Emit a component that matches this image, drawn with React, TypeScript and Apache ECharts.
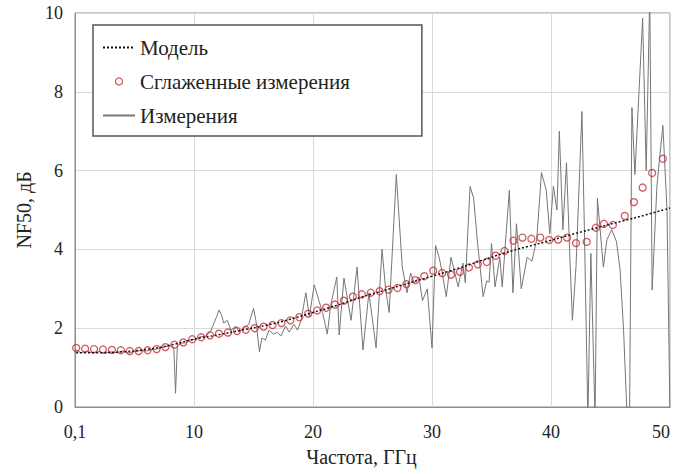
import React, { useEffect, useRef } from "react";
import * as echarts from "echarts";

// X tick labels (value axis 0..50, step 10)
const xTickLabels = ["0,1", "10", "20", "30", "40", "50"];

// Model (dotted black)
const modelFreq = [0.1, 2, 4, 6, 8, 10, 12, 14, 16, 18, 20, 22, 24, 26, 28, 30, 32, 34, 36, 38, 40, 42, 44, 46, 48, 50];
const modelNF = [1.38, 1.38, 1.4, 1.46, 1.57, 1.72, 1.83, 1.95, 2.07, 2.22, 2.4, 2.58, 2.78, 2.96, 3.14, 3.32, 3.5, 3.7, 3.9, 4.07, 4.23, 4.4, 4.56, 4.72, 4.88, 5.05];

// Smoothed measurements (red open circles)
const smoothFreq = [
  0.1, 0.85, 1.6, 2.35, 3.1, 3.85, 4.6, 5.35, 6.1, 6.85, 7.6, 8.35, 9.1, 9.85,
  10.6, 11.35, 12.1, 12.85, 13.6, 14.35, 15.1, 15.85, 16.6, 17.35, 18.1, 18.85, 19.6,
  20.35, 21.1, 21.85, 22.6, 23.35, 24.1, 24.85, 25.6, 26.35, 27.1, 27.85, 28.6, 29.35,
  30.1, 30.85, 31.6, 32.35, 33.1, 33.85, 34.6, 35.35, 36.1, 36.85, 37.6, 38.35, 39.1, 39.85,
  40.6, 41.35, 42.1, 43.0, 43.77, 44.44, 45.2, 46.2, 46.97, 47.7, 48.5, 49.4,
];
const smoothNF = [
  1.5, 1.48, 1.47, 1.46, 1.45, 1.44, 1.42, 1.42, 1.44, 1.47, 1.52, 1.58, 1.64, 1.72,
  1.77, 1.82, 1.86, 1.89, 1.93, 1.96, 2.0, 2.04, 2.08, 2.13, 2.2, 2.28, 2.37,
  2.45, 2.52, 2.6, 2.7, 2.8, 2.86, 2.9, 2.94, 2.98, 3.02, 3.12, 3.22, 3.32,
  3.46, 3.4, 3.36, 3.43, 3.54, 3.62, 3.68, 3.84, 3.96, 4.22, 4.3, 4.27, 4.3, 4.24,
  4.25, 4.3, 4.16, 4.19, 4.55, 4.65, 4.62, 4.85, 5.2, 5.57, 5.94, 6.3,
];

// Raw measurements (grey line)
const measFreq = [
  0.1, 0.5, 1.0, 1.5, 2.0, 2.5, 3.0, 3.5, 4.0, 4.5, 5.0, 5.5, 6.0, 6.5, 7.0, 7.5, 8.0, 8.3, 8.45, 8.6, 8.9, 9.3, 9.7,
  10.1, 10.5, 11.0, 11.4, 11.95, 12.1, 12.3, 12.5, 12.8, 13.1, 13.5, 13.8, 14.2, 14.6, 15.0, 15.2, 15.5, 15.7,
  16.0, 16.3, 16.7, 17.0, 17.3, 17.7, 18.0, 18.4, 18.7, 19.0, 19.4, 19.7,
  20.1, 20.5, 20.8, 21.2, 21.5, 22.0, 22.2, 22.6, 23.2, 23.7, 24.2, 24.7, 25.3, 25.8, 26.1, 26.4,
  27.0, 27.5, 27.9, 28.2, 28.5, 28.9, 29.2, 29.6,
  30.0, 30.3, 30.6, 30.8, 31.2, 31.6, 32.2, 32.6, 32.8, 33.2, 33.5, 33.8, 34.3, 34.6, 34.8,
  35.0, 35.3, 35.7, 35.9, 36.5, 36.8, 37.1, 37.5, 38.0, 38.4, 38.8, 39.2, 39.6, 39.9,
  40.2, 40.5, 40.7, 41.0, 41.3, 41.6, 41.8, 42.1, 42.6, 42.8, 43.1, 43.35, 43.7, 43.9,
  44.4, 44.7, 45.1, 45.5, 45.8, 46.1, 46.4, 46.6, 46.8, 47.05, 47.7, 48.0, 48.3, 48.5,
  48.9, 49.4, 49.75, 50.0,
];
const measNF = [
  1.45, 1.38, 1.42, 1.37, 1.41, 1.36, 1.4, 1.38, 1.42, 1.37, 1.41, 1.43, 1.42, 1.46, 1.48, 1.52, 1.56, 1.52, 0.35, 1.55, 1.62, 1.63, 1.7,
  1.72, 1.78, 1.8, 1.92, 2.33, 2.46, 2.35, 2.13, 2.2, 1.95, 2.05, 1.9, 2.0, 2.1, 2.5, 2.2, 1.4, 1.75,
  1.7, 1.95, 1.85, 1.9, 1.8, 2.05, 1.9, 2.1, 1.95, 2.2, 2.9, 2.3,
  3.1, 2.7, 2.4, 1.85, 2.6, 3.3, 1.83, 3.27, 2.2, 3.55, 1.45, 2.9, 1.5, 4.0, 3.0, 2.4,
  5.9, 3.55, 2.9, 3.4, 3.15, 3.3, 2.7, 3.0,
  1.5, 4.1, 3.8, 3.5, 2.8, 3.8, 3.05, 3.65, 3.15, 5.6, 5.3, 4.25, 2.8, 3.2, 3.17,
  4.15, 3.05, 3.8, 3.05, 5.5, 2.9, 4.65, 3.0, 3.8, 3.7, 4.25, 5.95, 5.5, 4.4,
  5.6, 5.0, 7.0, 4.5, 6.2, 3.7, 2.2, 3.55, 7.5, 4.6, -0.3, 3.9, -0.3, 5.3,
  3.55, 4.25, 4.5, 4.2, 3.5, 1.95, -0.3, -0.3, 7.6, 5.9, 9.87, 6.0, 10.5, 2.97,
  5.6, 7.15, 5.0, -0.3,
];

const pairs = (xs: number[], ys: number[]) => xs.map((x, i) => [x, ys[i]]);

const FONT = "Liberation Serif";
const RED = "#c8303a";
const HIDDEN = { color: "rgba(0,0,0,0)", borderColor: "rgba(0,0,0,0)", borderWidth: 0 };

export default function App() {
  const ref = useRef<HTMLDivElement>(null);
  useEffect(() => {
    if (!ref.current) return;
    const chart = echarts.init(ref.current, undefined, { renderer: "svg" });
    chart.setOption({
      animation: false,
      backgroundColor: "#ffffff",
      textStyle: { fontFamily: FONT, color: "#222" },
      grid: {
        left: 75,
        right: 14,
        top: 13,
        bottom: 67,
        show: true,
        borderColor: "#8c8c8c",
        borderWidth: 1,
      },
      legend: {
        orient: "vertical",
        left: 93,
        top: 25,
        padding: [11, 72, 9, 9],
        itemGap: 11,
        itemWidth: 32,
        itemHeight: 7,
        borderColor: "#555",
        borderWidth: 1.5,
        backgroundColor: "#fff",
        textStyle: { fontFamily: FONT, fontSize: 21, color: "#222", lineHeight: 23 },
        data: [
          { name: "Модель", itemStyle: HIDDEN },
          { name: "Сглаженные измерения", icon: "circle", itemStyle: { color: "#fff", borderColor: RED, borderWidth: 1.3 } },
          { name: "Измерения", itemStyle: HIDDEN },
        ],
      },
      xAxis: {
        type: "value",
        min: 0,
        max: 50,
        interval: 10,
        name: "Частота, ГГц",
        nameLocation: "middle",
        nameGap: 40,
        nameTextStyle: { fontFamily: FONT, fontSize: 20, color: "#222", padding: [0, 22, 0, 0] },
        axisLine: { show: true, lineStyle: { color: "#8c8c8c", width: 1 } },
        axisTick: { show: false },
        axisLabel: {
          fontFamily: FONT,
          fontSize: 18,
          color: "#222",
          margin: 16,
          alignMaxLabel: "right",
          formatter: (v: number) => xTickLabels[Math.round(v / 10)] ?? String(v),
        },
        splitLine: { show: true, lineStyle: { color: "#d9d9d9", width: 1 } },
      },
      yAxis: {
        type: "value",
        min: 0,
        max: 10,
        interval: 2,
        name: "NF50, дБ",
        nameLocation: "middle",
        nameGap: 35,
        nameTextStyle: { fontFamily: FONT, fontSize: 20, color: "#222" },
        axisLine: { show: true, lineStyle: { color: "#8c8c8c", width: 1 } },
        axisTick: { show: false },
        axisLabel: { fontFamily: FONT, fontSize: 18, color: "#222", margin: 12 },
        splitLine: { show: true, lineStyle: { color: "#d9d9d9", width: 1 } },
      },
      series: [
        {
          name: "Измерения",
          type: "line",
          data: pairs(measFreq, measNF),
          symbol: "none",
          clip: true,
          lineStyle: { color: "#767676", width: 1 },
          itemStyle: { color: "#767676" },
          z: 2,
        },
        {
          name: "Сглаженные измерения",
          type: "scatter",
          data: pairs(smoothFreq, smoothNF),
          symbol: "circle",
          symbolSize: 7,
          itemStyle: { color: "rgba(255,255,255,0)", borderColor: RED, borderWidth: 1.3 },
          z: 3,
        },
        {
          name: "Модель",
          type: "line",
          data: pairs(modelFreq, modelNF),
          symbol: "none",
          smooth: true,
          lineStyle: { color: "#111", width: 1.5, type: [2, 2] },
          itemStyle: { color: "#111" },
          z: 4,
        },
      ],
    });
    return () => chart.dispose();
  }, []);
  return (
    <div
      ref={ref}
      style={{ position: "fixed", left: 0, top: 0, width: 684, height: 474, background: "#fff" }}
    />
  );
}
